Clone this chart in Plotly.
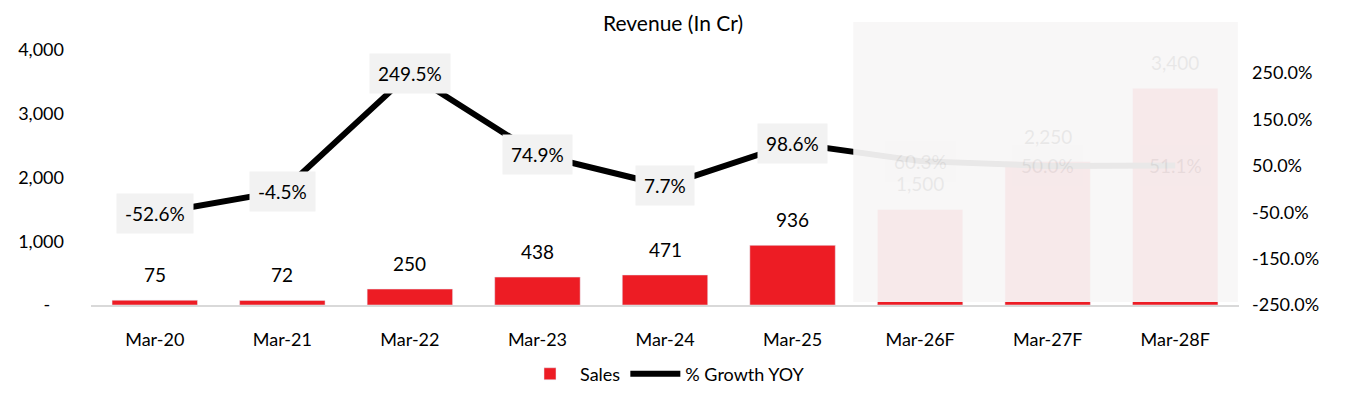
import plotly.graph_objects as go

categories = ["Mar-20", "Mar-21", "Mar-22", "Mar-23", "Mar-24", "Mar-25", "Mar-26F", "Mar-27F", "Mar-28F"]
sales = [75, 72, 250, 438, 471, 936, 1500, 2250, 3400]          # last three estimated (obscured)
growth = [-52.6, -4.5, 249.5, 74.9, 7.7, 98.6, 60.3, 50.0, 51.1]  # last three estimated (obscured)
obscured = [False, False, False, False, False, False, True, True, True]
left_ticks = [0, 1000, 2000, 3000, 4000]
left_ticktext = ["-" + "\u00a0" * 3, "1,000", "2,000", "3,000", "4,000"]
right_ticks = [-250, -150, -50, 50, 150, 250]
right_ticktext = ["-250.0%", "-150.0%", "-50.0%", "50.0%", "150.0%", "250.0%"]

FONT = "Lato, Calibri, sans-serif"
RED = "#ED1C24"
VEIL = 0.94

fig = go.Figure()
fig.add_trace(go.Bar(
    x=categories, y=sales, name="Sales", marker_color=RED,
))
fig.add_trace(go.Scatter(
    x=categories, y=growth, name="% Growth YOY", yaxis="y2", mode="lines",
    line=dict(color="black", width=6),
))

for c, s, h in zip(categories, sales, obscured):
    fig.add_annotation(x=c, y=s, yref="y", text=f"{s:,}", showarrow=False,
                       yanchor="bottom", yshift=12, opacity=(1 - VEIL) if h else 1,
                       font=dict(size=19, color="black", family=FONT))

for c, g, h in zip(categories, growth, obscured):
    fig.add_annotation(x=c, y=g, yref="y2", text=f"{g:.1f}%", showarrow=False,
                       bgcolor="#F2F2F2", borderpad=8, opacity=(1 - VEIL) if h else 1,
                       font=dict(size=19, color="black", family=FONT))

# obscured (mosaic) region of the source image
fig.add_shape(type="rect", xref="paper", yref="paper", x0=0.664, x1=0.999, y0=0.012, y1=1.11,
              fillcolor=f"rgba(248,246,246,{VEIL})", line_width=0, layer="above")

fig.update_layout(
    width=1346, height=395,
    margin=dict(l=91, r=107, t=50, b=90),
    paper_bgcolor="white", plot_bgcolor="white",
    font=dict(family=FONT, size=18, color="black"),
    title=dict(text="Revenue (In Cr)", x=0.5, xanchor="center", y=0.94, yanchor="middle",
               font=dict(size=21, family=FONT, color="black")),
    bargap=0.33,
    showlegend=True,
    legend=dict(orientation="h", x=0.5, xanchor="center", yref="container", y=0.053,
                yanchor="middle", font=dict(size=18, family=FONT), itemwidth=50),
    xaxis=dict(showline=True, linecolor="#D9D9D9", linewidth=2, ticks="", showgrid=False,
               tickfont=dict(size=18), ticklabelstandoff=17, automargin=False),
    yaxis=dict(range=[0, 4000], tickvals=left_ticks, ticktext=left_ticktext, showgrid=False,
               zeroline=False, ticks="", tickfont=dict(size=18), ticklabelstandoff=26,
               automargin=False),
    yaxis2=dict(range=[-250, 300], overlaying="y", side="right", tickvals=right_ticks,
                ticktext=right_ticktext, showgrid=False, zeroline=False, ticks="",
                tickfont=dict(size=18), ticklabelstandoff=12, automargin=False),
)

fig.write_html("out.html", config={"displayModeBar": False},
               post_script="document.body.style.margin='0';")
